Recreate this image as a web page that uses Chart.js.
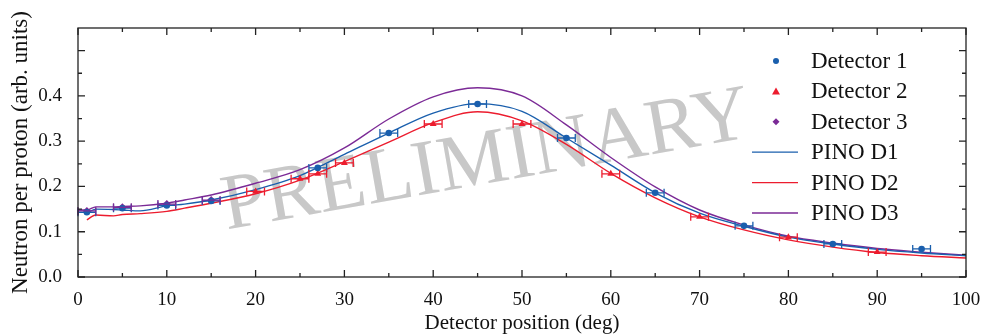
<!DOCTYPE html>
<html>
<head>
<meta charset="utf-8">
<script src="https://cdn.jsdelivr.net/npm/chart.js@4.4.1/dist/chart.umd.min.js"></script>
<style>
  html, body { margin: 0; padding: 0; background: #fff; }
  #wrap { width: 985px; height: 336px; }
</style>
</head>
<body>
<div id="wrap"><canvas id="chart" width="985" height="336"></canvas></div>
<script>
// measured points (deg, value), x error is +-1 deg
var det1X = [1, 5, 10, 15, 27, 35, 45, 55, 65, 75, 85, 95];
var det1Y = [0.143, 0.152, 0.158, 0.168, 0.241, 0.318, 0.382, 0.307, 0.186, 0.113, 0.073, 0.062];
var det2X = [20, 25, 27, 30, 40, 50, 60, 70, 80, 90];
var det2Y = [0.189, 0.217, 0.228, 0.252, 0.338, 0.338, 0.228, 0.133, 0.088, 0.055];
var det3X = [1, 5, 10, 15];
var det3Y = [0.146, 0.154, 0.161, 0.170];
var errX = 1;

// simulation curves
var pinoX  = [0, 1, 2, 4, 5, 7, 10, 12, 15, 20, 25, 30, 35, 40, 45, 50, 55, 60, 65, 70, 75, 80, 85, 90, 95, 100];
var pinoD1 = [null, 0.141, 0.150, 0.149, 0.148, 0.146, 0.157, 0.161, 0.170, 0.193, 0.224, 0.271, 0.318, 0.362, 0.383, 0.366, 0.307, 0.247, 0.186, 0.141, 0.112, 0.088, 0.073, 0.061, 0.053, 0.047];
var pinoD2 = [null, 0.126, 0.137, 0.135, 0.138, 0.140, 0.145, 0.152, 0.163, 0.184, 0.214, 0.255, 0.298, 0.341, 0.365, 0.345, 0.293, 0.229, 0.175, 0.133, 0.104, 0.082, 0.066, 0.054, 0.047, 0.042];
var pinoD3 = [0.148, 0.148, 0.155, 0.155, 0.156, 0.157, 0.163, 0.170, 0.181, 0.207, 0.237, 0.285, 0.349, 0.398, 0.418, 0.400, 0.336, 0.264, 0.199, 0.148, 0.115, 0.090, 0.075, 0.063, 0.055, 0.048];

var xTicks = [0, 10, 20, 30, 40, 50, 60, 70, 80, 90, 100];
var yTicks = [0.0, 0.1, 0.2, 0.3, 0.4];

var BLUE = '#1a5fad';
var RED = '#ec1c2e';
var PURPLE = '#7b2a96';
var FONT = '"Liberation Serif", "DejaVu Serif", serif';

function pts(xs, ys) {
    var out = [];
    for (var i = 0; i < xs.length; i++) {
        if (ys[i] !== null) out.push({ x: xs[i], y: ys[i] });
    }
    return out;
}

// watermark behind the data
var watermark = {
    id: 'watermark',
    beforeDatasetsDraw: function (chart) {
        var ctx = chart.ctx;
        var a = chart.chartArea;
        ctx.save();
        ctx.translate(a.left + (a.right - a.left) * 0.46, a.top + (a.bottom - a.top) * 0.54);
        ctx.rotate(-10 * Math.PI / 180);
        ctx.font = '79px ' + FONT;
        ctx.fillStyle = '#c8c8c8';
        ctx.textAlign = 'center';
        ctx.textBaseline = 'middle';
        ctx.fillText('PRELIMINARY', 0, 0);
        ctx.restore();
    }
};

// horizontal error bars on the detector points
var errorBars = {
    id: 'errorBars',
    afterDatasetsDraw: function (chart) {
        var ctx = chart.ctx;
        var xs = chart.scales.x, ys = chart.scales.y;
        ctx.save();
        chart.data.datasets.forEach(function (ds) {
            if (!ds.errX) return;
            ctx.strokeStyle = ds.borderColor;
            ctx.lineWidth = 1.3;
            ds.data.forEach(function (p) {
                var x0 = xs.getPixelForValue(p.x - ds.errX);
                var x1 = xs.getPixelForValue(p.x + ds.errX);
                var y = ys.getPixelForValue(p.y);
                ctx.beginPath();
                ctx.moveTo(x0, y); ctx.lineTo(x1, y);
                ctx.moveTo(x0, y - 4); ctx.lineTo(x0, y + 4);
                ctx.moveTo(x1, y - 4); ctx.lineTo(x1, y + 4);
                ctx.stroke();
            });
        });
        ctx.restore();
    }
};

// frame with inward ticks on all four sides
var frame = {
    id: 'frame',
    afterDraw: function (chart) {
        var ctx = chart.ctx;
        var a = chart.chartArea;
        var xs = chart.scales.x, ys = chart.scales.y;
        ctx.save();
        ctx.strokeStyle = '#222';
        ctx.lineWidth = 1.3;
        ctx.strokeRect(a.left, a.top, a.right - a.left, a.bottom - a.top);
        ctx.beginPath();
        for (var v = 0; v <= 100; v += 5) {
            var len = v % 10 === 0 ? 7 : 4;
            var px = xs.getPixelForValue(v);
            ctx.moveTo(px, a.bottom); ctx.lineTo(px, a.bottom - len);
            ctx.moveTo(px, a.top); ctx.lineTo(px, a.top + len);
        }
        for (var k = 0; k <= 10; k++) {
            var yv = k * 0.05;
            var l2 = k % 2 === 0 ? 7 : 4;
            var py = ys.getPixelForValue(yv);
            ctx.moveTo(a.left, py); ctx.lineTo(a.left + l2, py);
            ctx.moveTo(a.right, py); ctx.lineTo(a.right - l2, py);
        }
        ctx.stroke();
        ctx.restore();
    }
};

// legend inside the plot, upper right
var innerLegend = {
    id: 'innerLegend',
    afterDraw: function (chart) {
        var ctx = chart.ctx;
        var order = [3, 4, 5, 0, 1, 2];
        var top = 61, step = 30.4;
        ctx.save();
        ctx.font = '23px ' + FONT;
        ctx.textBaseline = 'middle';
        ctx.fillStyle = '#111';
        order.forEach(function (idx, i) {
            var ds = chart.data.datasets[idx];
            var y = top + i * step;
            if (ds.showLine) {
                ctx.strokeStyle = ds.borderColor;
                ctx.lineWidth = 1.3;
                ctx.beginPath();
                ctx.moveTo(752, y); ctx.lineTo(798, y);
                ctx.stroke();
            } else {
                ctx.fillStyle = ds.backgroundColor;
                ctx.beginPath();
                if (ds.pointStyle === 'triangle') {
                    ctx.moveTo(776, y - 4); ctx.lineTo(780, y + 3); ctx.lineTo(772, y + 3);
                } else if (ds.pointStyle === 'rectRot') {
                    ctx.moveTo(776, y - 3.5); ctx.lineTo(779.5, y); ctx.lineTo(776, y + 3.5); ctx.lineTo(772.5, y);
                } else {
                    ctx.arc(776, y, 3, 0, Math.PI * 2);
                }
                ctx.closePath();
                ctx.fill();
            }
            ctx.fillStyle = '#111';
            ctx.fillText(ds.label, 811, y + 1);
        });
        ctx.restore();
    }
};

new Chart(document.getElementById('chart'), {
    type: 'scatter',
    data: {
        datasets: [
            { label: 'PINO D1', data: pts(pinoX, pinoD1), showLine: true, borderColor: BLUE, borderWidth: 1.4, pointRadius: 0, cubicInterpolationMode: 'monotone', order: 3 },
            { label: 'PINO D2', data: pts(pinoX, pinoD2), showLine: true, borderColor: RED, borderWidth: 1.4, pointRadius: 0, cubicInterpolationMode: 'monotone', order: 3 },
            { label: 'PINO D3', data: pts(pinoX, pinoD3), showLine: true, borderColor: PURPLE, borderWidth: 1.4, pointRadius: 0, cubicInterpolationMode: 'monotone', order: 3 },
            { label: 'Detector 1', data: pts(det1X, det1Y), errX: errX, pointStyle: 'circle', pointRadius: 3.3, backgroundColor: BLUE, borderColor: BLUE, borderWidth: 0, order: 1 },
            { label: 'Detector 2', data: pts(det2X, det2Y), errX: errX, pointStyle: 'triangle', pointRadius: 4, backgroundColor: RED, borderColor: RED, borderWidth: 0, order: 1 },
            { label: 'Detector 3', data: pts(det3X, det3Y), errX: errX, pointStyle: 'rectRot', pointRadius: 4, backgroundColor: PURPLE, borderColor: PURPLE, borderWidth: 0, order: 1 }
        ]
    },
    options: {
        responsive: false,
        animation: false,
        events: [],
        layout: { padding: { top: 28, right: 19, left: 0, bottom: 0 } },
        plugins: {
            legend: { display: false },
            tooltip: { enabled: false }
        },
        scales: {
            x: {
                type: 'linear', min: 0, max: 100,
                grid: { display: false },
                border: { display: false },
                afterBuildTicks: function (s) { s.ticks = xTicks.map(function (v) { return { value: v }; }); },
                afterFit: function (s) { s.height = 59; },
                ticks: { color: '#111', padding: 4, maxRotation: 0, font: { family: FONT, size: 19 } },
                title: { display: true, text: 'Detector position (deg)', color: '#111', padding: { top: 0, bottom: 0 }, font: { family: FONT, size: 21 } }
            },
            y: {
                type: 'linear', min: 0, max: 0.55,
                grid: { display: false },
                border: { display: false },
                afterBuildTicks: function (s) { s.ticks = yTicks.map(function (v) { return { value: v }; }); },
                afterFit: function (s) { s.width = 78; },
                ticks: { color: '#111', padding: 8, font: { family: FONT, size: 19 }, callback: function (v) { return v.toFixed(1); } },
                title: { display: true, text: 'Neutron per proton (arb. units)', color: '#111', padding: { top: 7, bottom: 0 }, font: { family: FONT, size: 23 } }
            }
        }
    },
    plugins: [watermark, errorBars, frame, innerLegend]
});
</script>
</body>
</html>
